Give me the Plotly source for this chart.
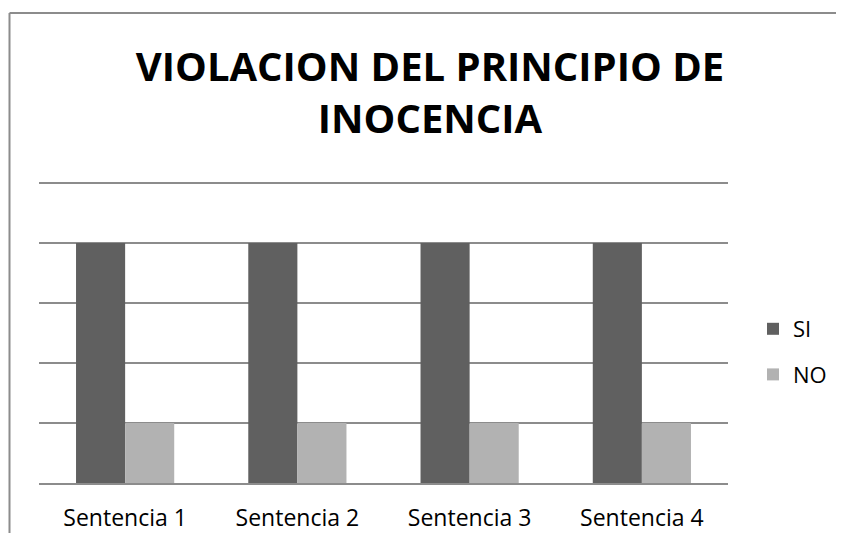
import plotly.graph_objects as go

# Chart data
categories = ["Sentencia 1", "Sentencia 2", "Sentencia 3", "Sentencia 4"]
si_values = [4, 4, 4, 4]
no_values = [1, 1, 1, 1]
y_max = 5.05  # a little headroom so the gridline at 5 is drawn

# page body adds 8px, so figure coords = reference pixels - 8
# (figure kept 16px smaller than the window so the page does not scroll)
W, H = 828, 525
L, R, T, B = 31, 108, 172, 50
pw, ph = W - L - R, H - T - B


def px_x(v):
    return (v - L) / pw


def px_y(v):
    return (H - B - v) / ph


fig = go.Figure()
fig.add_trace(go.Bar(x=categories, y=si_values, name="SI", marker_color="#606060",
                     marker_line_width=0, legendgroup="si"))
fig.add_trace(go.Bar(x=categories, y=no_values, name="NO", marker_color="#b2b2b2",
                     marker_line_width=0, legendgroup="no"))

# chart border (cropped at right and bottom in the reference)
border = dict(color="#8c8c8c", width=2)
fig.add_shape(type="line", xref="paper", yref="paper",
              x0=px_x(1.5), x1=px_x(1.5), y0=px_y(H + 20), y1=px_y(5), line=border)
fig.add_shape(type="line", xref="paper", yref="paper",
              x0=px_x(1.5), x1=px_x(W + 20), y0=px_y(5), y1=px_y(5), line=border)

fig.update_layout(
    width=W, height=H,
    margin=dict(l=L, r=R, t=T, b=B, autoexpand=False),
    paper_bgcolor="white", plot_bgcolor="white",
    font=dict(family="Open Sans, sans-serif", color="#000000"),
    title=dict(text="<b>VIOLACION DEL PRINCIPIO DE<br>INOCENCIA</b>",
               x=422 / W, xanchor="center", y=1 - 73 / H, yanchor="top",
               font=dict(size=40, family="Open Sans, sans-serif", color="#000000")),
    barmode="group", bargap=0.43, bargroupgap=0,
    legend=dict(x=px_x(745), xanchor="left", y=px_y(300), yanchor="top",
                traceorder="grouped", tracegroupgap=14,
                font=dict(size=22), bgcolor="rgba(0,0,0,0)"),
)
fig.update_yaxes(range=[0, y_max], dtick=1, showticklabels=False, showgrid=True,
                 gridcolor="#8c8c8c", gridwidth=1.5, zeroline=False, showline=False,
                 automargin=False)
fig.update_xaxes(showline=True, linecolor="#8c8c8c", linewidth=1.5, ticks="",
                 tickfont=dict(size=23), ticklabelstandoff=14, showgrid=False,
                 automargin=False)

fig.write_html("out.html")
